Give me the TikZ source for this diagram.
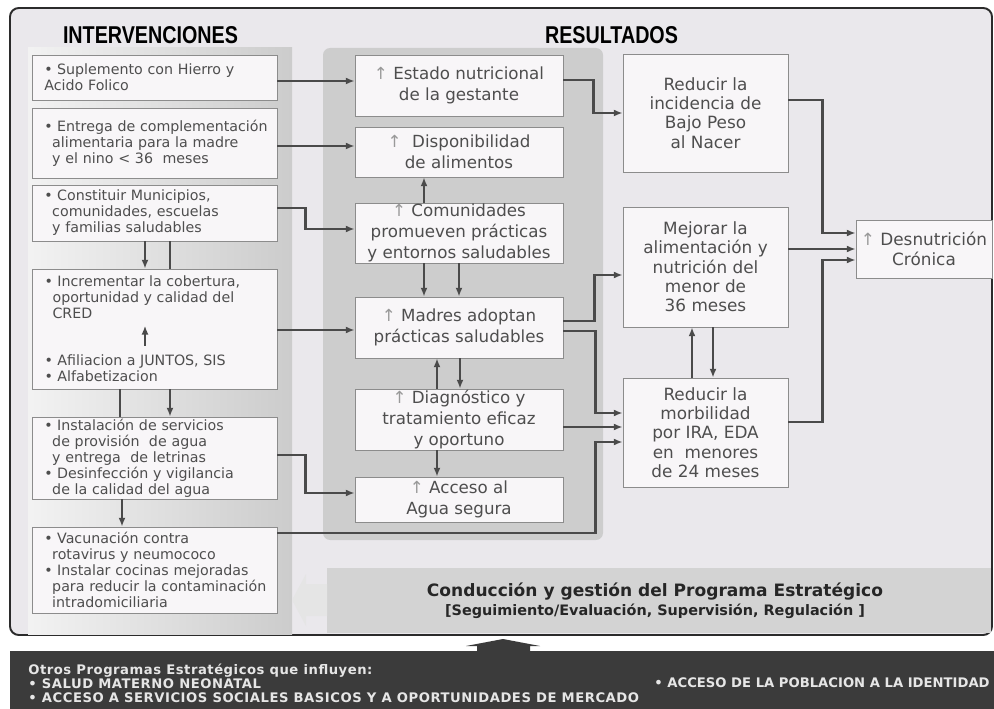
\documentclass[tikz,border=0pt]{standalone}
\usepackage{fontspec}
\usepackage{graphicx}
\usepackage{xcolor}
\setmainfont{DejaVu Sans}
\newfontfamily\titlefont{Liberation Sans}
\newfontfamily\bandafont[LetterSpace=4.0]{DejaVu Sans}
\usetikzlibrary{arrows.meta, calc, positioning}

\definecolor{marco}{HTML}{2B2B2B}
\definecolor{fondo}{HTML}{EAE8EC}
\definecolor{cajafill}{HTML}{F8F6F8}
\definecolor{cajaborde}{HTML}{8C8C8C}
\definecolor{flecha}{HTML}{4A4A4A}
\definecolor{texto}{HTML}{4E4E4E}
\definecolor{panelmed}{HTML}{CDCDCD}
\definecolor{panelcond}{HTML}{D3D3D3}
\definecolor{banda}{HTML}{3B3B3B}
\definecolor{textobanda}{HTML}{E6E6E6}

\newcommand{\bl}{\hspace*{5pt}\makebox[0.9em][l]{\textbullet}}
\newcommand{\ind}{\hspace*{9.5pt}}
\newcommand{\flechita}{{\color{gray!80}↑}}

\begin{document}
\begin{tikzpicture}[x=0.02cm, y=-0.02cm,
  caja/.style={draw=cajaborde, line width=0.5pt, fill=cajafill, text=texto, inner sep=0pt},
  icaja/.style={caja, text width=4.76cm, inner xsep=0.07cm, align=left, font=\fontsize{8.1}{9.1}\selectfont},
  itexto/.style={text=texto, inner sep=0pt, align=left, font=\fontsize{8.1}{9.1}\selectfont},
  mcaja/.style={caja, minimum width=4.16cm, align=center, font=\fontsize{9.5}{11.9}\selectfont},
  rcaja/.style={caja, minimum width=3.3cm, align=center, font=\fontsize{9.6}{11}\selectfont},
  arr/.style={draw=flecha, line width=1.3pt, -{Latex[length=5pt,width=4pt]}},
  lin/.style={draw=flecha, line width=1.3pt},
]
% fondo y marco
\useasboundingbox (0,0) rectangle (994,709);
\fill[white] (0,0) rectangle (994,709);
\draw[marco, line width=1.1pt, fill=fondo, rounded corners=5pt] (10,8) rectangle (992,635);

% paneles
\shade[left color=gray!10, right color=gray!40] (28,48) rectangle (292,634);
\fill[panelmed, rounded corners=4pt] (323,48) rectangle (603,540);
\fill[panelcond] (327,568) rectangle (991,633);
\fill[gray!20] (292,600) -- (306,574) -- (306,584) -- (327,584) -- (327,616) -- (306,616) -- (306,626) -- cycle;

% banda inferior
\fill[banda] (10,651) rectangle (994,709);
\fill[banda] (466,646) -- (503,639) -- (540,646) -- (530,646) -- (530,652) -- (477,652) -- (477,646) -- cycle;

% titulos
\node (tInt) at (150.5,35.5) {\resizebox{3.5cm}{0.34cm}{\titlefont\bfseries INTERVENCIONES}};
\node (tRes) at (611.5,35.5) {\resizebox{2.66cm}{0.34cm}{\titlefont\bfseries RESULTADOS}};

% intervenciones
\node[icaja, minimum height=0.9cm] (I1) at (154.5,77.5) {\bl Suplemento con Hierro y\\\hspace*{5pt}Acido Folico};
\node[icaja, minimum height=1.4cm] (I2) at (154.5,143) {\bl Entrega de complementación\\\ind alimentaria para la madre\\\ind y el nino < 36~ meses};
\node[icaja, minimum height=1.12cm] (I3) at (154.5,213) {\bl Constituir Municipios,\\\ind comunidades, escuelas\\\ind y familias saludables};
\node[caja, minimum width=4.9cm, minimum height=2.4cm] (I4) at (154.5,329) {};
\node[itexto, anchor=north west] (I4a) at (35.5,275) {\bl Incrementar la cobertura,\\\ind oportunidad y calidad del\\\ind CRED};
\node[itexto, anchor=south west] (I4b) at (35.5,382) {\bl Afiliacion a JUNTOS, SIS\\\bl Alfabetizacion};
\node[icaja, minimum height=1.64cm] (I5) at (154.5,458) {\bl Instalación de servicios\\\ind de provisión~ de agua\\\ind y entrega~ de letrinas\\\bl Desinfección y vigilancia\\\ind de la calidad del agua};
\node[icaja, minimum height=1.72cm] (I6) at (154.5,570) {\bl Vacunación contra\\\ind rotavirus y neumococo\\\bl Instalar cocinas mejoradas\\\ind para reducir la contaminación\\\ind intradomiciliaria};

% resultados intermedios
\node[mcaja, minimum height=1.22cm] (M1) at (459,85.5) {\flechita\ Estado nutricional\\de la gestante};
\node[mcaja, minimum height=1.0cm] (M2) at (459,152) {\flechita\ \ Disponibilidad\\de alimentos};
\node[mcaja, minimum height=1.2cm] (M3) at (459,233) {\flechita\ Comunidades\\promueven prácticas\\y entornos saludables};
\node[mcaja, minimum height=1.22cm] (M4) at (459,327.5) {\flechita\ Madres adoptan\\prácticas saludables};
\node[mcaja, minimum height=1.22cm] (M5) at (459,419.5) {\flechita\ Diagnóstico y\\tratamiento eficaz\\y oportuno};
\node[mcaja, minimum height=0.9cm] (M6) at (459,499.5) {\flechita\ Acceso al\\Agua segura};

% resultados finales
\node[rcaja, minimum height=2.36cm] (R1) at (705.5,113) {Reducir la\\incidencia de\\Bajo Peso\\al Nacer};
\node[rcaja, minimum height=2.4cm] (R2) at (705.5,267) {Mejorar la\\alimentación y\\nutrición del\\menor de\\36 meses};
\node[rcaja, minimum height=2.18cm] (R3) at (705.5,432.5) {Reducir la\\morbilidad\\por IRA, EDA\\en~ menores\\de 24 meses};
\node[rcaja, minimum width=2.72cm, minimum height=1.16cm] (D) at (924,249) {\flechita\ Desnutrición\\Crónica};

% conduccion
\node[align=center, text=black!85] (cond) at (655,601) {{\fontsize{9.7}{10}\selectfont\bfseries Conducción y gestión del Programa Estratégico}\\[-1pt]{\fontsize{8.2}{9}\selectfont\bfseries [Seguimiento/Evaluación, Supervisión, Regulación ]}};

% otros programas
\node[anchor=west, align=left, text=textobanda, inner sep=0pt, font=\bandafont\fontsize{7.5}{7.9}\selectfont\bfseries] (otros) at (28,683) {Otros Programas Estratégicos que influyen:\\\textbullet\ SALUD MATERNO NEONATAL\\\textbullet\ ACCESO A SERVICIOS SOCIALES BASICOS Y A OPORTUNIDADES DE MERCADO};
\node[anchor=east, text=textobanda, inner sep=0pt, font=\fontsize{7.5}{7.9}\selectfont\bfseries] (ident) at (990,683) {\textbullet\ ACCESO DE LA POBLACION A LA IDENTIDAD};

% flechas entre intervenciones
\coordinate (cI) at (145,0);
\draw[arr] ($(I3.south)+(-9.5,0)$) -- ($(I4.north)+(-9.5,0)$);
\draw[lin] ($(I3.south)+(15.5,0)$) -- ($(I4.north)+(15.5,0)$);
\draw[arr, shorten <=5pt, shorten >=4pt] (I4b.north -| cI) -- (I4a.south -| cI);
\draw[lin] ($(I4.south)+(-34.5,0)$) -- ($(I5.north)+(-34.5,0)$);
\draw[arr] ($(I4.south)+(15.5,0)$) -- ($(I5.north)+(15.5,0)$);
\draw[arr] ($(I5.south)+(-32.5,0)$) -- ($(I6.north)+(-32.5,0)$);

% intervenciones -> resultados
\draw[arr] ($(I1.east)+(0,3.5)$) coordinate (a1) -- (a1 -| M1.west);
\draw[arr] ($(I2.east)+(0,3)$) coordinate (a2) -- (a2 -| M2.west);
\draw[arr] ($(I3.east)+(0,-5)$) -- ++(28,0) |- ($(M3.west)+(0,-4)$);
\draw[arr] ($(I4.east)+(0,1)$) coordinate (a4) -- (a4 -| M4.west);
\draw[arr] ($(I5.east)+(0,-3)$) -- ++(28,0) |- ($(M6.west)+(0,-6.5)$);
\draw[arr] ($(I6.east)+(0,-37)$) -- ++(318,0) |- ($(R3.west)+(0,9.5)$);

% entre resultados intermedios
\draw[arr] ($(M3.north)+(-35,0)$) -- ($(M2.south)+(-35,0)$);
\draw[arr] ($(M3.south)+(-35,0)$) -- ($(M4.north)+(-35,0)$);
\draw[arr] (M3.south) -- (M4.north);
\draw[arr] ($(M5.north)+(-22,0)$) -- ($(M4.south)+(-22,0)$);
\draw[arr] ($(M4.south)+(1,0)$) -- ($(M5.north)+(1,0)$);
\draw[arr] ($(M5.south)+(-22,0)$) -- ($(M6.north)+(-22,0)$);

% intermedios -> finales
\draw[arr] ($(M1.east)+(0,-5.5)$) -- ++(30,0) |- (R1.west);
\draw[arr] ($(M4.east)+(0,-6.5)$) -- ++(31,0) |- ($(R2.west)+(0,8)$);
\draw[arr] ($(M4.east)+(0,3.5)$) -- ++(32,0) |- ($(R3.west)+(0,-19.5)$);
\draw[arr] ($(M5.east)+(0,7.5)$) coordinate (a5) -- (a5 -| R3.west);
\draw[arr] ($(R3.north)+(-13.5,0)$) -- ($(R2.south)+(-13.5,0)$);
\draw[arr] ($(R2.south)+(7.5,0)$) -- ($(R3.north)+(7.5,0)$);

% finales -> desnutricion
\draw[arr] ($(R1.east)+(0,-13)$) -- ++(34,0) |- ($(D.west)+(0,-16)$);
\draw[arr] (D.west -| R2.east) -- (D.west);
\draw[arr] ($(R3.east)+(0,-10.5)$) -- ++(34,0) |- ($(D.west)+(0,11)$);
\end{tikzpicture}
\end{document}
